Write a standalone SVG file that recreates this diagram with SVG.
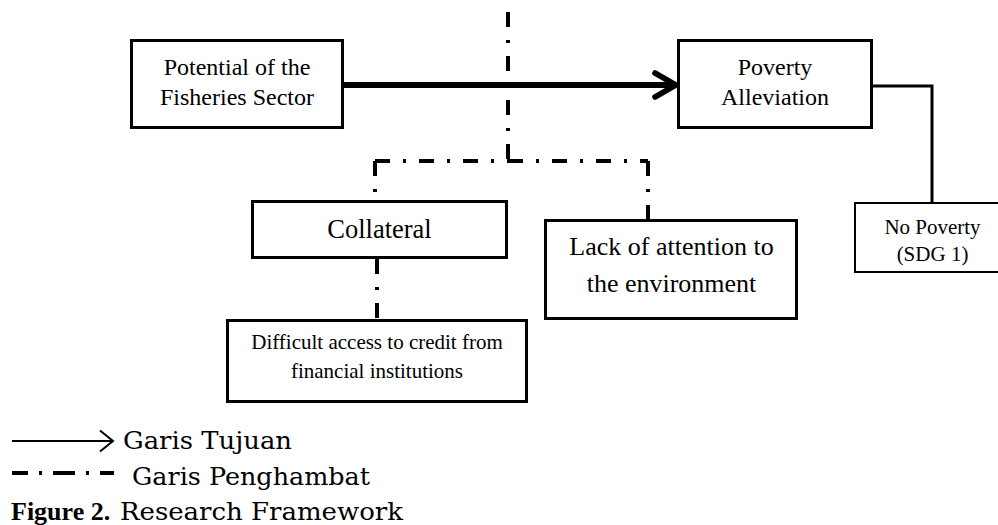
<svg xmlns="http://www.w3.org/2000/svg" width="998" height="525" viewBox="0 0 998 525">
<style>
  .box { fill: #fff; stroke: #000; stroke-width: 3; }
  .thin { fill: #fff; stroke: #000; stroke-width: 2; }
  .t { font-family: "Liberation Serif", "Times New Roman", serif; fill: #000; text-anchor: middle; }
  .lg { font-family: "DejaVu Serif", "Liberation Serif", serif; fill: #000; }
  .solid { fill: none; stroke: #000; stroke-width: 3; }
  .dd { fill: none; stroke: #000; stroke-width: 4; stroke-dasharray: 15 13 3 13; }
</style>
<rect width="998" height="525" fill="#fff"/>

<g id="connectors">
  <!-- main goal arrow -->
  <line x1="344" y1="85" x2="673" y2="85" stroke="#000" stroke-width="6"/>
  <polyline points="655,73 676,85 655,97" fill="none" stroke="#000" stroke-width="5.5" stroke-linecap="round" stroke-linejoin="miter"/>
  <!-- Poverty Alleviation to No Poverty -->
  <path class="solid" d="M873,86 H932 V203"/>
  <!-- inhibiting lines -->
  <path class="dd" d="M508,12 V161"/>
  <path class="dd" d="M375,161 V201"/>
  <path class="dd" d="M375,161 H508"/>
  <path class="dd" d="M508,161 H648"/>
  <path class="dd" d="M648,161 V220"/>
  <path class="dd" d="M377,259 V320"/>
</g>

<g id="node-potential">
  <rect class="box" x="131.5" y="40.5" width="211" height="87"/>
  <text class="t" x="237" y="75" font-size="24">Potential of the</text>
  <text class="t" x="237" y="105" font-size="24">Fisheries Sector</text>
</g>

<g id="node-poverty-alleviation">
  <rect class="box" x="678.5" y="40.5" width="193" height="87"/>
  <text class="t" x="775" y="75" font-size="24">Poverty</text>
  <text class="t" x="775" y="105" font-size="24">Alleviation</text>
</g>

<g id="node-no-poverty">
  <rect class="thin" x="855" y="203" width="160" height="69"/>
  <text class="t" x="932.5" y="234" font-size="21">No Poverty</text>
  <text class="t" x="932.5" y="261" font-size="21">(SDG 1)</text>
</g>

<g id="node-collateral">
  <rect class="box" x="252.5" y="201.5" width="254" height="56"/>
  <text class="t" x="379.5" y="238" font-size="26.5">Collateral</text>
</g>

<g id="node-lack-attention">
  <rect class="box" x="545.5" y="220.5" width="251" height="98"/>
  <text class="t" x="671.5" y="255" font-size="26">Lack of attention to</text>
  <text class="t" x="671.5" y="292" font-size="26">the environment</text>
</g>

<g id="node-difficult-access">
  <rect class="box" x="227.5" y="320.5" width="299" height="81"/>
  <text class="t" x="377" y="349" font-size="21">Difficult access to credit from</text>
  <text class="t" x="377" y="378" font-size="21">financial institutions</text>
</g>

<g id="legend">
  <line x1="12" y1="441" x2="112" y2="441" stroke="#000" stroke-width="2"/>
  <polyline points="100,430.5 113,441 100,451.5" fill="none" stroke="#000" stroke-width="2"/>
  <text class="lg" x="123" y="449" font-size="25" textLength="169" lengthAdjust="spacingAndGlyphs">Garis Tujuan</text>
  <path d="M12,473 H116" fill="none" stroke="#000" stroke-width="4" stroke-dasharray="16 11 3 11 22 11 3 11 14"/>
  <text class="lg" x="132" y="485" font-size="25" textLength="238" lengthAdjust="spacingAndGlyphs">Garis Penghambat</text>
  <text x="11" y="520" font-family="Liberation Serif, serif" font-size="26" font-weight="bold" fill="#000">Figure 2.</text>
  <text class="lg" x="120" y="520" font-size="25" textLength="283" lengthAdjust="spacingAndGlyphs">Research Framework</text>
</g>
</svg>
